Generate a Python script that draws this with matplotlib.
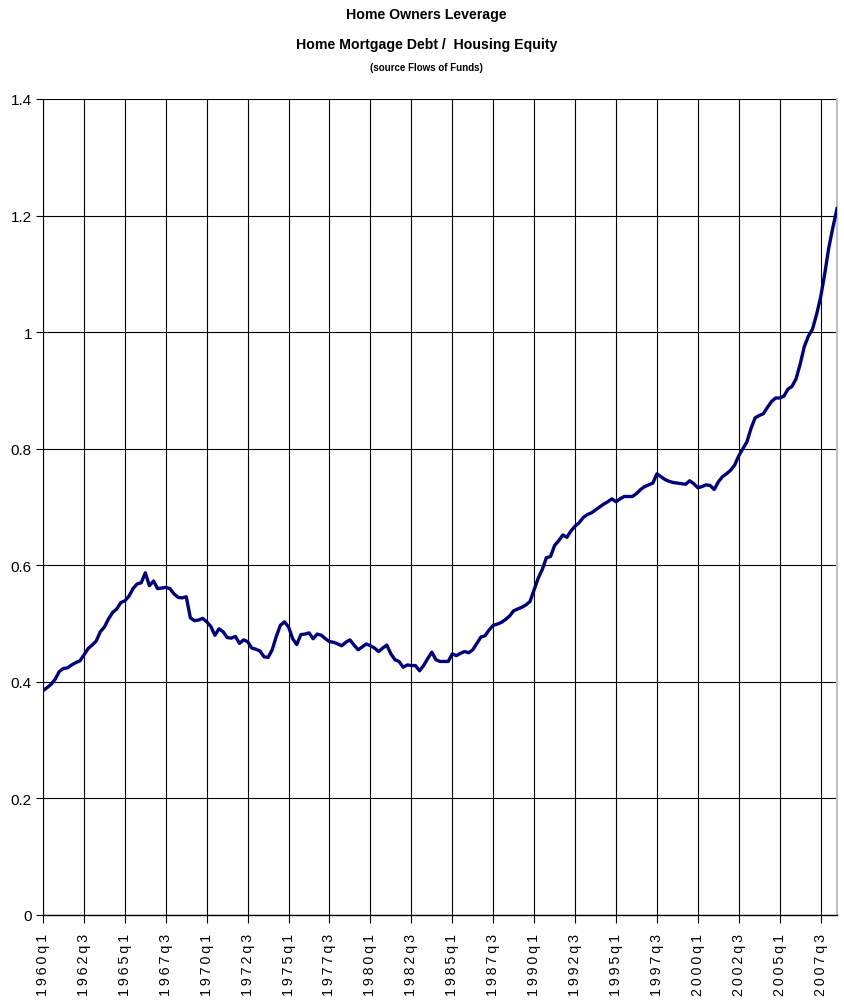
import matplotlib
matplotlib.use("Agg")
import matplotlib.pyplot as plt
from matplotlib import font_manager

# ---- data: quarterly, 1960q1 .. 2008q3 ----
start_year = 1960
leverage = [
    0.385, 0.390, 0.396, 0.405, 0.418, 0.423, 0.424, 0.429, 0.433, 0.436,
    0.446, 0.457, 0.463, 0.470, 0.486, 0.494, 0.508, 0.519, 0.525, 0.536,
    0.539, 0.547, 0.560, 0.568, 0.570, 0.587, 0.565, 0.573, 0.560, 0.561,
    0.562, 0.560, 0.551, 0.545, 0.544, 0.546, 0.510, 0.505, 0.506, 0.509,
    0.503, 0.495, 0.480, 0.491, 0.486, 0.476, 0.475, 0.478, 0.466, 0.472,
    0.469, 0.458, 0.456, 0.453, 0.443, 0.442, 0.455, 0.478, 0.497, 0.503,
    0.494, 0.474, 0.464, 0.481, 0.482, 0.484, 0.474, 0.482, 0.480, 0.474,
    0.469, 0.468, 0.465, 0.462, 0.468, 0.472, 0.463, 0.455, 0.460, 0.465,
    0.462, 0.458, 0.452, 0.458, 0.463, 0.448, 0.438, 0.435, 0.425, 0.429,
    0.428, 0.428, 0.419, 0.428, 0.440, 0.451, 0.438, 0.435, 0.435, 0.435,
    0.448, 0.445, 0.449, 0.452, 0.450, 0.455, 0.466, 0.477, 0.479, 0.489,
    0.497, 0.499, 0.502, 0.507, 0.513, 0.522, 0.525, 0.528, 0.532, 0.538,
    0.558, 0.578, 0.593, 0.613, 0.615, 0.634, 0.642, 0.652, 0.648, 0.659,
    0.667, 0.673, 0.682, 0.687, 0.690, 0.695, 0.700, 0.705, 0.709, 0.714,
    0.709, 0.714, 0.718, 0.718, 0.718, 0.723, 0.730, 0.735, 0.738, 0.741,
    0.757, 0.752, 0.747, 0.744, 0.742, 0.741, 0.740, 0.739, 0.745, 0.740,
    0.733, 0.735, 0.738, 0.737, 0.730, 0.743, 0.752, 0.757, 0.763, 0.772,
    0.788, 0.800, 0.812, 0.835, 0.853, 0.857, 0.860, 0.871, 0.881, 0.887,
    0.887, 0.890, 0.902, 0.907, 0.920, 0.945, 0.975, 0.993, 1.005, 1.030,
    1.060, 1.100, 1.145, 1.180, 1.212,
]
quarters = [f"{start_year + i // 4}q{i % 4 + 1}" for i in range(len(leverage))]
tick_step = 10
y_ticks = [0, 0.2, 0.4, 0.6, 0.8, 1.0, 1.2, 1.4]
y_tick_labels = ["0", "0.2", "0.4", "0.6", "0.8", "1", "1.2", "1.4"]

title1 = "Home Owners Leverage"
title2 = "Home Mortgage Debt /  Housing Equity"
title3 = "(source Flows of Funds)"

# ---- fonts ----
avail = {f.name for f in font_manager.fontManager.ttflist}
narrow = "Liberation Sans Narrow" if "Liberation Sans Narrow" in avail else "Liberation Sans"
plt.rcParams["font.family"] = [narrow, "DejaVu Sans"]

fig = plt.figure(figsize=(8.45, 10.04), dpi=100)
ax = fig.add_axes([43 / 845, 1 - 916 / 1004, (837 - 43) / 845, (916 - 100) / 1004])

x = list(range(len(leverage)))
ax.plot(x, leverage, color="#000080", linewidth=2.4, solid_joinstyle="round", zorder=3)

ax.set_xlim(0, len(leverage) - 1)
ax.set_ylim(0, 1.4)

xt = list(range(0, len(leverage), tick_step))
ax.set_xticks(xt)
ax.set_xticklabels(["\u2009".join(quarters[i]) for i in xt], rotation=90, fontsize=10.3,
                   va="top", ha="center")
ax.set_yticks(y_ticks)
ax.set_yticklabels(y_tick_labels, fontsize=11)

ax.grid(True, color="black", linewidth=0.8, zorder=1)
ax.set_axisbelow(True)
ax.tick_params(axis="x", direction="out", length=6, width=0.8, pad=7)
ax.tick_params(axis="y", direction="out", length=5, width=0.8, pad=3)

ax.spines["top"].set_visible(False)
ax.spines["right"].set_color("#c0c0c0")
ax.spines["right"].set_linewidth(1.5)
ax.spines["left"].set_color("black")
ax.spines["bottom"].set_color("black")
ax.spines["left"].set_linewidth(0.8)
ax.spines["bottom"].set_linewidth(1.0)

fig.text(0.505, 1 - 15 / 1004, title1, ha="center", va="center", fontsize=10.2, fontweight="bold")
fig.text(0.505, 1 - 45 / 1004, title2, ha="center", va="center", fontsize=10.2, fontweight="bold")
fig.text(0.505, 1 - 68 / 1004, title3, ha="center", va="center", fontsize=7, fontweight="bold")

fig.savefig("out.png", dpi=100)
